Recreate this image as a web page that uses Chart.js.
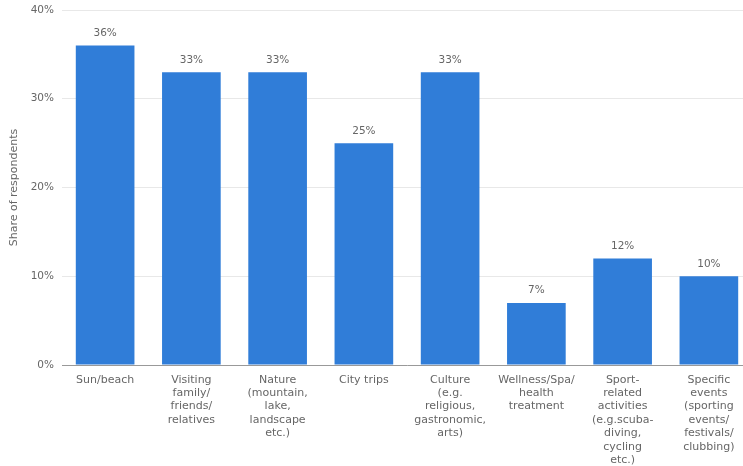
<!DOCTYPE html>
<html>
<head>
<meta charset="utf-8">
<script src="https://cdn.jsdelivr.net/npm/chart.js@4/dist/chart.umd.min.js"></script>
<style>
  html, body { margin: 0; padding: 0; background: #fff; overflow: hidden; }
  #wrap { width: 752px; height: 466px; }
</style>
</head>
<body>
<div id="wrap"><canvas id="travelChart"></canvas></div>
<script>
// Holiday types and share of respondents (%)
const categories = [
  'Sun/beach',
  ['Visiting', 'family/', 'friends/', 'relatives'],
  ['Nature', '(mountain,', 'lake,', 'landscape', 'etc.)'],
  'City trips',
  ['Culture', '(e.g.', 'religious,', 'gastronomic,', 'arts)'],
  ['Wellness/Spa/', 'health', 'treatment'],
  ['Sport-', 'related', 'activities', '(e.g.scuba-', 'diving,', 'cycling', 'etc.)'],
  ['Specific', 'events', '(sporting', 'events/', 'festivals/', 'clubbing)']
];
const shares = [36, 33, 33, 25, 33, 7, 12, 10];
const yTicks = [0, 10, 20, 30, 40];

const textColor = '#666';
const fontFamily = '"DejaVu Sans", sans-serif';

// draws the "36%" style labels above each bar
const valueLabels = {
  id: 'valueLabels',
  afterDatasetsDraw(chart) {
    const ctx = chart.ctx;
    const meta = chart.getDatasetMeta(0);
    ctx.save();
    ctx.font = '10.5px ' + fontFamily;
    ctx.fillStyle = textColor;
    ctx.textAlign = 'center';
    ctx.textBaseline = 'bottom';
    meta.data.forEach((bar, i) => {
      ctx.fillText(shares[i] + '%', bar.x, bar.y - 7);
    });
    ctx.restore();
  }
};

new Chart(document.getElementById('travelChart'), {
  type: 'bar',
  data: {
    labels: categories,
    datasets: [{
      data: shares,
      backgroundColor: '#307dd8',
      categoryPercentage: 1,
      barPercentage: 0.68
    }]
  },
  plugins: [valueLabels],
  options: {
    responsive: true,
    maintainAspectRatio: false,
    animation: false,
    layout: { padding: { top: 10, left: 0, right: 0, bottom: 0 } },
    plugins: {
      legend: { display: false },
      tooltip: { enabled: false }
    },
    scales: {
      x: {
        grid: { display: false, drawTicks: false },
        border: { display: true, color: '#999', width: 1 },
        ticks: {
          autoSkip: false,
          maxRotation: 0,
          minRotation: 0,
          padding: 8,
          color: textColor,
          font: { family: fontFamily, size: 11, lineHeight: 1.22 }
        },
        afterFit(scale) {
          scale.height = 101;
          scale.paddingLeft = 0;
          scale.paddingRight = 0;
        }
      },
      y: {
        min: 0,
        max: 40,
        afterBuildTicks(scale) { scale.ticks = yTicks.map(v => ({ value: v })); },
        grid: { color: '#e8e8e8', drawTicks: false },
        border: { display: false },
        ticks: {
          padding: 8,
          color: textColor,
          font: { family: fontFamily, size: 10.5 },
          callback: v => v + '%'
        },
        title: {
          display: true,
          text: 'Share of respondents',
          color: textColor,
          font: { family: fontFamily, size: 11 },
          padding: { top: 8, bottom: 0 }
        },
        afterFit(scale) {
          scale.width = 62;
          scale.paddingTop = 0;
          scale.paddingBottom = 0;
        }
      }
    }
  }
});
</script>
</body>
</html>
